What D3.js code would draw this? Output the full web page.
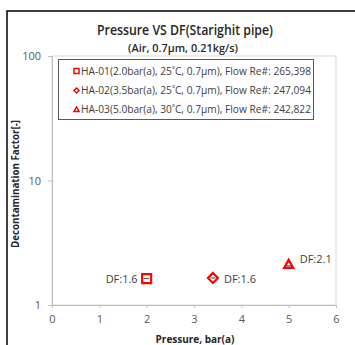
<!DOCTYPE html>
<html><head><meta charset="utf-8">
<script src="https://cdn.jsdelivr.net/npm/d3@7"></script>
<style>body{margin:0;background:#fff}svg{display:block}text{font-family:"Open Sans","Liberation Sans",Arial,sans-serif}</style>
</head><body><svg id="c" width="355" height="345"></svg>
<script>
const names = ["HA-01(2.0bar(a), 25\u02DAC, 0.7\u03BCm), Flow Re#: 265,398",
               "HA-02(3.5bar(a), 25\u02DAC, 0.7\u03BCm), Flow Re#: 247,094",
               "HA-03(5.0bar(a), 30\u02DAC, 0.7\u03BCm), Flow Re#: 242,822"];
const pressures = [2.0, 3.4, 5.0];
const dfValues = [1.63, 1.65, 2.12];
const labels = ["DF:1.6", "DF:1.6", "DF:2.1"];
const symbols = ["square", "diamond", "triangle"];
const xTicks = [0, 1, 2, 3, 4, 5, 6];
const yTicks = [1, 10, 100];

const svg = d3.select("#c");
const red = "#ff0000";
svg.append("rect").attr("x",7).attr("y",11).attr("width",360).attr("height",360)
  .attr("fill","none").attr("stroke","#000").attr("stroke-width",1.5);

const L=52, R=336, T=56, B=305;
const x = d3.scaleLinear().domain([0,6]).range([L,R]);
const y = d3.scaleLog().domain([1,100]).range([B,T]);

svg.append("rect").attr("x",L).attr("y",T).attr("width",R-L).attr("height",B-T)
  .attr("fill","none").attr("stroke","#d9d9d9").attr("stroke-width",1);

const xa = svg.append("g").attr("transform",`translate(0,${B})`)
  .call(d3.axisBottom(x).tickValues(xTicks).tickSize(3).tickFormat(d3.format("d")));
const ya = svg.append("g").attr("transform",`translate(${L},0)`)
  .call(d3.axisLeft(y).tickValues(yTicks).tickSize(4).tickFormat(d3.format("d")));
[xa,ya].forEach(a=>{
  a.selectAll("path,line").attr("stroke","#bfbfbf");
  a.selectAll("text").attr("fill","#595959").style("font-size","11px");
});
xa.selectAll("text").attr("dy","1.1em");
ya.selectAll("text").attr("x",-11);

svg.append("text").attr("x",185).attr("y",35).attr("text-anchor","middle")
  .style("font-size","14px").style("font-weight","600").attr("fill","#262626")
  .attr("textLength",176).attr("lengthAdjust","spacingAndGlyphs").text("Pressure VS DF(Starighit pipe)");
svg.append("text").attr("x",183).attr("y",52).attr("text-anchor","middle")
  .style("font-size","11px").style("font-weight","600").attr("fill","#262626")
  .attr("textLength",110).attr("lengthAdjust","spacingAndGlyphs").text("(Air, 0.7\u03BCm, 0.21kg/s)");
svg.append("text").attr("transform","translate(19,184) rotate(-90)").attr("text-anchor","middle")
  .style("font-size","10px").style("font-weight","bold").attr("fill","#262626")
  .attr("textLength",128).attr("lengthAdjust","spacingAndGlyphs").text("Decontamination Factor[-]");
svg.append("text").attr("x",195).attr("y",343).attr("text-anchor","middle")
  .style("font-size","10px").style("font-weight","bold").attr("fill","#262626")
  .text("Pressure, bar(a)");

function markerPath(type, s){
  const h=s/2;
  if(type==="square") return `M${-h},${-h}H${h}V${h}H${-h}Z`;
  if(type==="diamond") return `M0,${-h}L${h},0L0,${h}L${-h},0Z`;
  return `M0,${-h}L${h},${h*0.8}H${-h}Z`;
}

const pts = svg.append("g");
pressures.forEach((p,i)=>{
  const cx=x(p), cy=y(dfValues[i]);
  const s = symbols[i]==="square"?9:(symbols[i]==="diamond"?10:9);
  pts.append("path").attr("d",markerPath(symbols[i],s))
    .attr("transform",`translate(${cx},${cy})`)
    .attr("fill","#fff").attr("stroke",red).attr("stroke-width",2.2);
  pts.append("line").attr("x1",cx-2.5).attr("x2",cx+2.5).attr("y1",cy+(symbols[i]==="triangle"?1.5:0)).attr("y2",cy+(symbols[i]==="triangle"?1.5:0))
    .attr("stroke","#404040").attr("stroke-width",1);
});
const lblPos = [{dx:-9,anchor:"end",dy:0},{dx:11,anchor:"start",dy:1},{dx:11,anchor:"start",dy:-5}];
pressures.forEach((p,i)=>{
  svg.append("text").attr("x",x(p)+lblPos[i].dx).attr("y",y(dfValues[i])+lblPos[i].dy+4)
    .attr("text-anchor",lblPos[i].anchor).style("font-size","11px").attr("fill","#404040")
    .text(labels[i]);
});

const lg = svg.append("g");
lg.append("rect").attr("x",58.5).attr("y",59.5).attr("width",255).attr("height",60)
  .attr("fill","#fff").attr("stroke","#595959").attr("stroke-width",1);
const rowY = [71, 90.5, 109.5];
names.forEach((n,i)=>{
  lg.append("path").attr("d",markerPath(symbols[i],5))
    .attr("transform",`translate(76.5,${rowY[i]})`).attr("fill","#fff")
    .attr("stroke",red).attr("stroke-width",1.5);
  lg.append("text").attr("x",81).attr("y",rowY[i]+3.8).style("font-size","10.5px")
    .attr("fill","#404040").attr("textLength",230).attr("lengthAdjust","spacingAndGlyphs").text(n);
});
</script></body></html>
